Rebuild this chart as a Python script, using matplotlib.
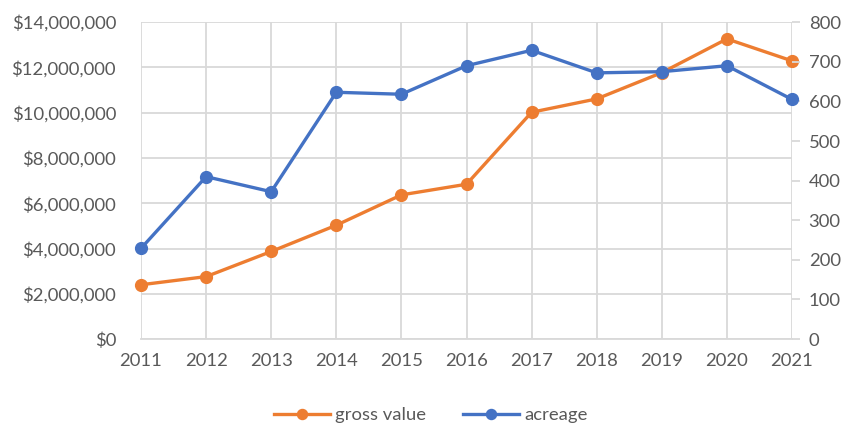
import matplotlib.pyplot as plt
from matplotlib.ticker import FuncFormatter, MultipleLocator

plt.rcParams['font.family'] = ['Lato', 'DejaVu Sans']

# Данные
years = [2011, 2012, 2013, 2014, 2015, 2016, 2017, 2018, 2019, 2020, 2021]
gross_value = [2400000, 2760000, 3870000, 5030000, 6370000, 6840000,
               10020000, 10610000, 11770000, 13260000, 12290000]
acreage = [229, 410, 372, 623, 618, 690, 729, 672, 675, 690, 605]

orange = '#ED7D31'
blue = '#4472C4'
text_color = '#595959'
grid_color = '#D9D9D9'
fs = 13.3

fig = plt.figure(figsize=(8.62, 4.26), dpi=100)
ax = fig.add_axes([0.1636, 0.204, 0.7552, 0.744])
ax2 = ax.twinx()

l1, = ax.plot(years, gross_value, color=orange, lw=2.4, marker='o', markersize=8.5,
              label='gross value', clip_on=False)
l2, = ax2.plot(years, acreage, color=blue, lw=2.4, marker='o', markersize=8.5,
               label='acreage', clip_on=False)

ax.set_xlim(2011, 2021)
ax.set_ylim(0, 14000000)
ax2.set_ylim(0, 800)
ax.set_xticks(years)
ax.yaxis.set_major_locator(MultipleLocator(2000000))
ax2.yaxis.set_major_locator(MultipleLocator(100))
ax.yaxis.set_major_formatter(FuncFormatter(lambda v, p: '${:,.0f}'.format(v)))

ax.grid(True, color=grid_color, lw=1.3)
ax.set_axisbelow(True)
for a in (ax, ax2):
    for s in a.spines.values():
        s.set_visible(False)
ax2.spines['bottom'].set_visible(True)
ax2.spines['bottom'].set_color(grid_color)
ax2.spines['bottom'].set_linewidth(1.3)

ax.tick_params(axis='both', length=0, labelsize=fs, labelcolor=text_color)
ax.tick_params(axis='y', pad=18)
ax.tick_params(axis='x', pad=10)
ax2.tick_params(axis='y', length=6, width=1.3, color=grid_color, labelsize=fs,
                labelcolor=text_color, pad=6)

fig.legend(handles=[l1, l2], loc='center', bbox_to_anchor=(0.5, 0.025), ncol=2,
           frameon=False, fontsize=fs, labelcolor=text_color, handlelength=3,
           columnspacing=2.0, handletextpad=0.3, markerscale=0.85)

plt.savefig('out.png', dpi=100)
